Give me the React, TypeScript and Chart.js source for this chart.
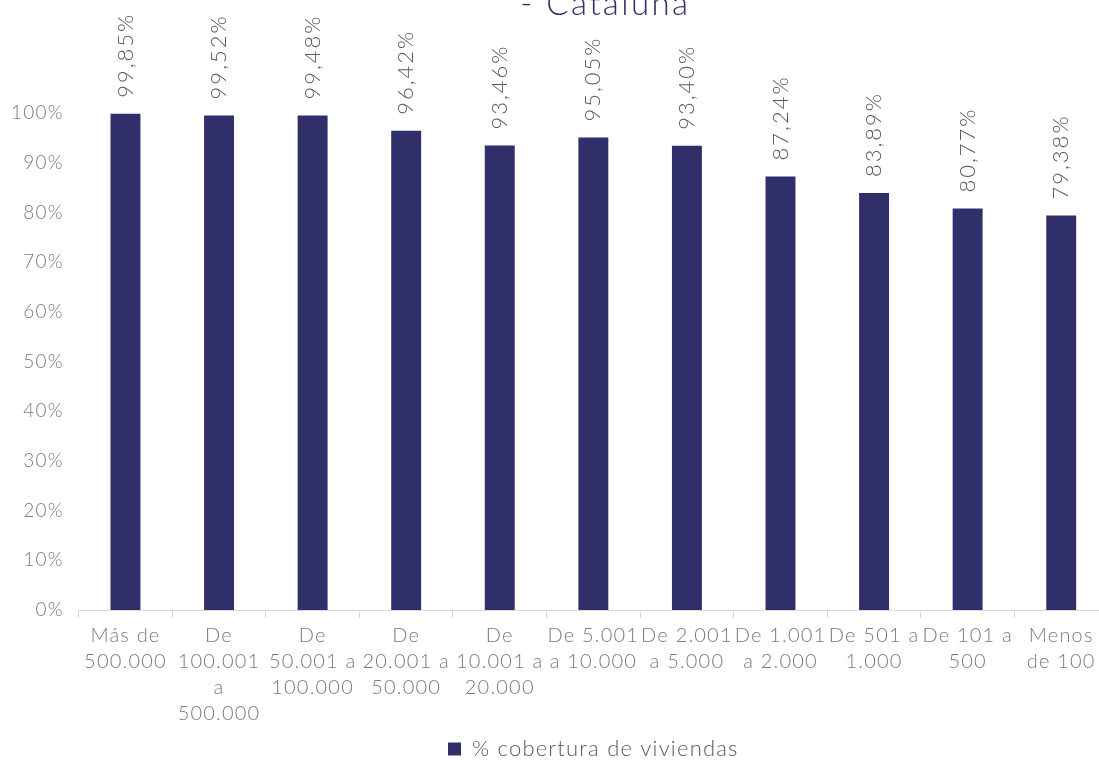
import React, { useEffect, useRef } from "react";
import { Chart, registerables } from "chart.js";

Chart.register(...registerables);

const categories: string[][] = [
  ["Más de", "500.000"],
  ["De", "100.001", "a", "500.000"],
  ["De", "50.001 a", "100.000"],
  ["De", "20.001 a", "50.000"],
  ["De", "10.001 a", "20.000"],
  ["De 5.001", "a 10.000"],
  ["De 2.001", "a 5.000"],
  ["De 1.001", "a 2.000"],
  ["De 501 a", "1.000"],
  ["De 101 a", "500"],
  ["Menos", "de 100"],
];

const cobertura: number[] = [
  0.9985, 0.9952, 0.9948, 0.9642, 0.9346, 0.9505, 0.934, 0.8724, 0.8389, 0.8077, 0.7938,
];

const seriesName = "% cobertura de viviendas";
const titleText = "- Cataluña";

const FONT = "Lato, 'Open Sans', sans-serif";
const BAR = "#302f6a";
const SPACING = "1.2px";

const fmtPct = (v: number) => (v * 100).toFixed(2).replace(".", ",") + "%";

const spacingPlugin = {
  id: "letterSpacing",
  beforeUpdate(chart: any) {
    chart.ctx.letterSpacing = SPACING;
  },
  beforeLayout(chart: any) {
    chart.ctx.letterSpacing = SPACING;
  },
  beforeDraw(chart: any) {
    chart.ctx.letterSpacing = SPACING;
  },
};

const labelPlugin = {
  id: "barLabels",
  afterDatasetsDraw(chart: any) {
    const ctx = chart.ctx;
    const meta = chart.getDatasetMeta(0);
    ctx.save();
    ctx.letterSpacing = "2px";
    ctx.fillStyle = "#595959";
    ctx.font = `300 22px ${FONT}`;
    ctx.textAlign = "left";
    ctx.textBaseline = "middle";
    meta.data.forEach((el: any, i: number) => {
      ctx.save();
      ctx.translate(el.x, el.y - 16);
      ctx.rotate(-Math.PI / 2);
      ctx.fillText(fmtPct(cobertura[i]), 0, 0);
      ctx.restore();
    });
    ctx.restore();
  },
};

const titlePlugin = {
  id: "clippedTitle",
  afterDraw(chart: any) {
    const ctx = chart.ctx;
    const ca = chart.chartArea;
    ctx.save();
    ctx.letterSpacing = "2.4px";
    ctx.fillStyle = BAR;
    ctx.font = `300 33px ${FONT}`;
    ctx.textAlign = "center";
    ctx.textBaseline = "alphabetic";
    ctx.fillText(titleText, (ca.left + ca.right) / 2 + 12, 15);
    ctx.restore();
  },
};

export default function App() {
  const ref = useRef<HTMLCanvasElement | null>(null);

  useEffect(() => {
    if (!ref.current) return;
    const chart = new Chart(ref.current, {
      type: "bar",
      data: {
        labels: categories,
        datasets: [
          {
            label: seriesName,
            data: cobertura,
            backgroundColor: BAR,
            borderWidth: 0,
            categoryPercentage: 1,
            barPercentage: 0.32,
          },
        ],
      },
      options: {
        animation: false,
        responsive: true,
        maintainAspectRatio: false,
        layout: { padding: { top: 113, left: -4, right: 0, bottom: 0 } },
        plugins: {
          title: { display: false },
          tooltip: { enabled: false },
          legend: {
            display: true,
            position: "bottom",
            fullSize: false,
            labels: {
              boxWidth: 13,
              boxHeight: 13,
              padding: 6,
              color: "#595959",
              font: { family: FONT, size: 22, weight: 300 as any },
            },
          },
        },
        scales: {
          x: {
            offset: true,
            grid: {
              display: true,
              drawOnChartArea: false,
              drawTicks: true,
              tickLength: 8,
              color: "#d9d9d9",
              offset: true,
            },
            border: { display: true, color: "#d9d9d9", width: 1 },
            ticks: {
              color: "#7a7a7a",
              font: { family: FONT, size: 20, weight: 300 as any, lineHeight: 1.3 },
              maxRotation: 0,
              minRotation: 0,
              autoSkip: false,
              padding: 5,
            },
          },
          y: {
            min: 0,
            max: 1,
            grid: { display: false, drawTicks: false },
            border: { display: false },
            ticks: {
              stepSize: 0.1,
              color: "#7a7a7a",
              padding: 15,
              font: { family: FONT, size: 19, weight: 300 as any },
              callback: (v: any) => Math.round(Number(v) * 100) + "%",
            },
          },
        },
      },
      plugins: [spacingPlugin, labelPlugin, titlePlugin],
    });
    return () => chart.destroy();
  }, []);

  return (
    <div
      style={{
        position: "fixed",
        top: 0,
        left: 0,
        width: 1099,
        height: 760,
        overflow: "hidden",
        background: "#fff",
      }}
    >
      <div style={{ position: "absolute", top: 0, left: 0, width: 1108, height: 770 }}>
        <canvas ref={ref} />
      </div>
    </div>
  );
}
